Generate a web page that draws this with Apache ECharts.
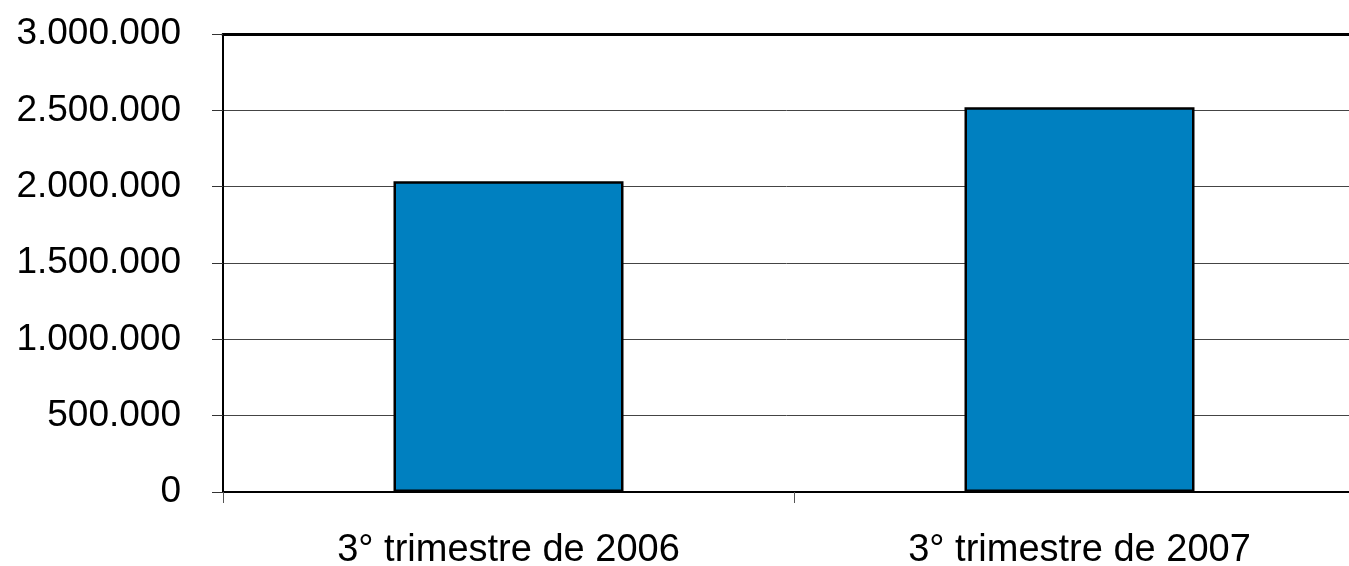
<!DOCTYPE html>
<html>
<head>
<meta charset="utf-8">
<script src="https://cdn.jsdelivr.net/npm/echarts@6/dist/echarts.min.js"></script>
<style>
html,body{margin:0;padding:0;background:#fff;overflow:hidden;}
#c{width:1349px;height:566px;}
</style>
</head>
<body>
<div id="c"></div>
<script>
const categories = ['3° trimestre de 2006', '3° trimestre de 2007'];
const values = [2036000, 2521000];
const yMin = 0, yMax = 3000000, yStep = 500000;

function fmt(v){
  return String(v).replace(/\B(?=(\d{3})+(?!\d))/g, '.');
}

const chart = echarts.init(document.getElementById('c'), null, {renderer:'canvas'});
chart.setOption({
  animation:false,
  backgroundColor:'#ffffff',
  grid:{left:223, top:34, width:1142, height:458, containLabel:false, outerBoundsMode:'none'},
  xAxis:[{
    type:'category',
    data:categories,
    position:'bottom',
    axisLine:{show:true, onZero:false, lineStyle:{color:'#000', width:2}},
    axisTick:{show:true, length:11, lineStyle:{color:'#555', width:1}},
    axisLabel:{margin:40, color:'#000', fontSize:38, fontFamily:'Liberation Sans, Arial, sans-serif'},
    splitLine:{show:false}
  },{
    type:'category',
    data:categories,
    position:'top',
    axisLine:{show:true, onZero:false, lineStyle:{color:'#000', width:3}},
    axisTick:{show:false},
    axisLabel:{show:false},
    splitLine:{show:false}
  }],
  yAxis:{
    type:'value',
    min:yMin, max:yMax, interval:yStep,
    axisLine:{show:true, lineStyle:{color:'#000', width:2}},
    axisTick:{show:true, length:11, lineStyle:{color:'#333', width:1}},
    axisLabel:{margin:42, color:'#000', fontSize:37, fontFamily:'Liberation Sans, Arial, sans-serif', formatter:fmt, padding:[0,0,4,0]},
    splitLine:{show:true, lineStyle:{color:'#444', width:1}}
  },
  series:[{
    type:'bar',
    data:values,
    barWidth:230,
    itemStyle:{color:'#0080C0', borderColor:'#000', borderWidth:2.5}
  }]
});
</script>
</body>
</html>
